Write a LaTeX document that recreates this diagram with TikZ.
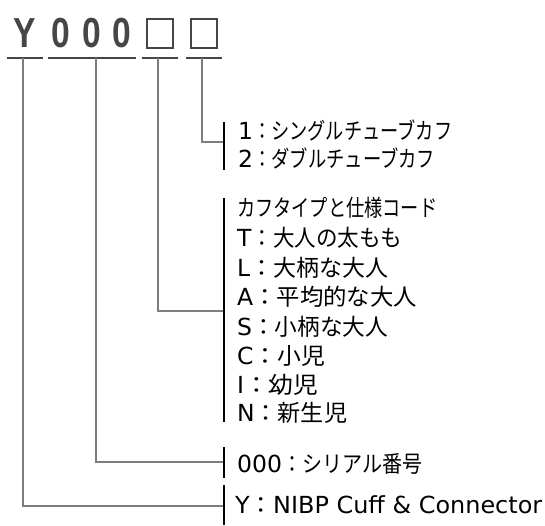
\documentclass[tikz,border=0pt]{standalone}
\usepackage{fontspec}
\usepackage{graphicx}
\newfontfamily\jpfont{Noto Sans CJK JP}
\newfontfamily\latfont{DejaVu Sans}
\newfontfamily\hdrfont{Liberation Sans}
\definecolor{hdrgray}{RGB}{70,70,70}
\definecolor{conngray}{RGB}{125,125,125}
\newlength\latw
\newlength\jpw
\newcommand{\lat}[1]{{\latfont\fontsize{23.5}{24}\selectfont #1}}
\newcommand{\jline}[3]{\settowidth{\latw}{\lat{#2}}\setlength{\jpw}{\dimexpr #1pt-\latw\relax}\lat{#2}\resizebox{\jpw}{\height}{\jpfont #3}}
\newcommand{\fitline}[2]{\resizebox{#1pt}{\height}{\jpfont #2}}
\newcommand{\hdrchar}[1]{\scalebox{0.8}[1]{\hdrfont\bfseries #1}}
\tikzset{
  hdr/.style={inner sep=0pt, text=hdrgray, font=\fontsize{42}{42}\selectfont},
  uline/.style={draw=hdrgray, line width=2pt},
  conn/.style={draw=conngray, line width=2pt},
  bar/.style={draw=black, line width=2.6pt},
  lbl/.style={anchor=west, inner sep=0pt, text=black, font=\fontsize{23}{23}\selectfont},
  codebox/.style={draw=hdrgray, line width=1.4pt},
}
\begin{document}
\begin{tikzpicture}[x=1pt, y=-1pt]
\useasboundingbox (0,0) rectangle (545,525);
% header
\node[hdr] (hY) at (24.5,33) {\hdrchar{Y}};
\node[hdr] (h0a) at (61,33) {\hdrchar{0}};
\node[hdr] (h0b) at (91.5,33) {\hdrchar{0}};
\node[hdr] (h0c) at (121.5,33) {\hdrchar{0}};
\draw[codebox] (147,19) rectangle (173,48);
\draw[codebox] (191,19) rectangle (217,48);
% underlines
\draw[uline] (7,58) -- (43,58);
\draw[uline] (48,58) -- (136,58);
\draw[uline] (142,58) -- (178,58);
\draw[uline] (186,58) -- (222,58);
\coordinate (u1) at (23,58);
\coordinate (u2) at (96,58);
\coordinate (u3) at (158,58);
\coordinate (u4) at (202,58);
% bars
\coordinate (b1t) at (224,122); \coordinate (b1b) at (224,170);
\coordinate (b2t) at (224,198); \coordinate (b2b) at (224,422);
\coordinate (b3t) at (224,447); \coordinate (b3b) at (224,478);
\coordinate (b4t) at (224,485); \coordinate (b4b) at (224,525);
\coordinate (j1) at (224,142);
\coordinate (j2) at (224,311);
\coordinate (j3) at (224,462);
\coordinate (j4) at (224,506);
\draw[conn] (u4) |- (j1);
\draw[conn] (u3) |- (j2);
\draw[conn] (u2) |- (j3);
\draw[conn] (u1) |- (j4);
\draw[bar] (b1t) -- (b1b);
\draw[bar] (b2t) -- (b2b);
\draw[bar] (b3t) -- (b3b);
\draw[bar] (b4t) -- (b4b);
% labels
\node[lbl] (g1a) at (238,130) {\jline{214}{1}{：シングルチューブカフ}};
\node[lbl] (g1b) at (238,158) {\jline{197}{2}{：ダブルチューブカフ}};
\node[lbl] (g2h) at (237,208) {\fitline{200}{カフタイプと仕様コード}};
\node[lbl] (g2t) at (237,238) {\jline{165}{T}{：大人の太もも}};
\node[lbl] (g2l) at (237,268) {\jline{151}{L}{：大柄な大人}};
\node[lbl] (g2a) at (237,297) {\jline{180}{A}{：平均的な大人}};
\node[lbl] (g2s) at (237,327) {\jline{151}{S}{：小柄な大人}};
\node[lbl] (g2c) at (237,356) {\jline{88}{C}{：小児}};
\node[lbl] (g2i) at (237,385) {\jline{81}{I}{：幼児}};
\node[lbl] (g2n) at (237,413) {\jline{110}{N}{：新生児}};
\node[lbl] (g3) at (237,464) {\jline{185}{000}{：シリアル番号}};
\node[lbl] (g4) at (235,505) {\resizebox{307pt}{\height}{\lat{Y}{\jpfont ：}\lat{NIBP Cuff \& Connector}}};
\end{tikzpicture}
\end{document}
